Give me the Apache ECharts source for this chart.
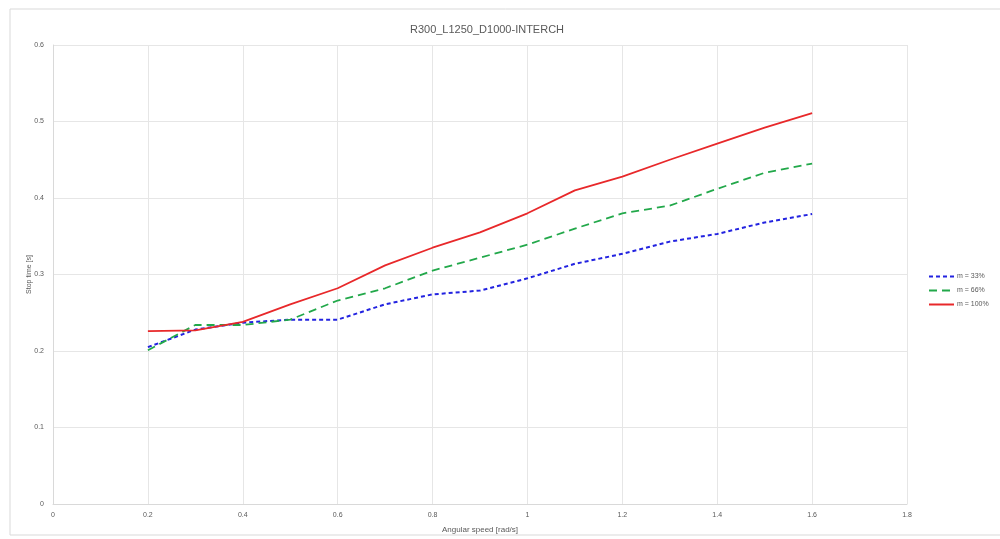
<!DOCTYPE html>
<html>
<head>
<meta charset="utf-8">
<script src="https://cdn.jsdelivr.net/npm/echarts@6/dist/echarts.min.js"></script>
<style>
html,body{margin:0;padding:0;background:#fff;}
#chart{width:1000px;height:539px;}
</style>
</head>
<body>
<div id="chart"></div>
<script>
var xValues = [0.2, 0.3, 0.4, 0.5, 0.6, 0.7, 0.8, 0.9, 1.0, 1.1, 1.2, 1.3, 1.4, 1.5, 1.6];
var m33 = [0.205, 0.228, 0.237, 0.241, 0.241, 0.261, 0.274, 0.279, 0.295, 0.314, 0.327, 0.343, 0.353, 0.368, 0.379];
var m66 = [0.201, 0.234, 0.234, 0.241, 0.266, 0.282, 0.305, 0.322, 0.339, 0.360, 0.380, 0.390, 0.412, 0.433, 0.445];
var m100 = [0.226, 0.227, 0.238, 0.261, 0.282, 0.312, 0.335, 0.355, 0.380, 0.410, 0.428, 0.450, 0.471, 0.492, 0.511];
var seriesNames = ['m = 33%', 'm = 66%', 'm = 100%'];
var titleText = 'R300_L1250_D1000-INTERCH';
var xAxisName = 'Angular speed [rad/s]';
var yAxisName = 'Stop time [s]';

function pairs(arr){ return xValues.map(function(x,i){ return [x, arr[i]]; }); }

var chart = echarts.init(document.getElementById('chart'), null, {renderer:'canvas'});
var txt = '#595959';
var font = 'Liberation Sans, Arial, sans-serif';
chart.setOption({
  backgroundColor: '#fff',
  animation: false,
  graphic: [{type:'rect', shape:{x:10, y:9, width:1000, height:526}, style:{fill:'none', stroke:'#d9d9d9', lineWidth:1}, silent:true}],
  title: {text: titleText, left: 482, top: 19, textAlign: 'center',
    textStyle:{color:txt, fontSize:11, fontWeight:'normal', fontFamily:font}},
  legend: {orient:'vertical', left: 923, top: 268, itemGap: 7, itemWidth: 25, itemHeight: 8,
    itemStyle:{opacity:0},
    textStyle:{color:txt, fontSize:7, fontFamily:font, padding:[0,0,0,-2]},
    data: seriesNames},
  grid: {left:53, right:93, top:45, bottom:34, containLabel:false},
  xAxis: {type:'value', min:0, max:1.8, interval:0.2,
    name: xAxisName, nameLocation:'middle', nameGap: 22,
    nameTextStyle:{color:txt, fontSize:8, fontFamily:font},
    axisLine:{show:true, lineStyle:{color:'#d9d9d9'}}, axisTick:{show:false},
    axisLabel:{color:txt, fontSize:7, fontFamily:font, margin:8, formatter:function(v){return String(+v.toFixed(1));}},
    splitLine:{show:true, lineStyle:{color:'#e6e6e6'}}},
  yAxis: {type:'value', min:0, max:0.6, interval:0.1,
    name: yAxisName, nameLocation:'middle', nameGap: 20, nameMoveOverlap: false,
    nameTextStyle:{color:txt, fontSize:7, fontFamily:font},
    axisLine:{show:true, lineStyle:{color:'#d9d9d9'}}, axisTick:{show:false},
    axisLabel:{color:txt, fontSize:7, fontFamily:font, margin:9, formatter:function(v){return String(+v.toFixed(1));}},
    splitLine:{show:true, lineStyle:{color:'#e6e6e6'}}},
  series: [
    {name: seriesNames[0], type:'line', data:pairs(m33), showSymbol:false, symbol:'none',
      itemStyle:{color:'#2323e0'}, lineStyle:{color:'#2323e0', width:2, type:[4,3]}},
    {name: seriesNames[1], type:'line', data:pairs(m66), showSymbol:false, symbol:'none',
      itemStyle:{color:'#22a84a'}, lineStyle:{color:'#22a84a', width:1.8, type:[8,5]}},
    {name: seriesNames[2], type:'line', data:pairs(m100), showSymbol:false, symbol:'none',
      itemStyle:{color:'#e8282a'}, lineStyle:{color:'#e8282a', width:1.8}}
  ]
});
</script>
</body>
</html>
